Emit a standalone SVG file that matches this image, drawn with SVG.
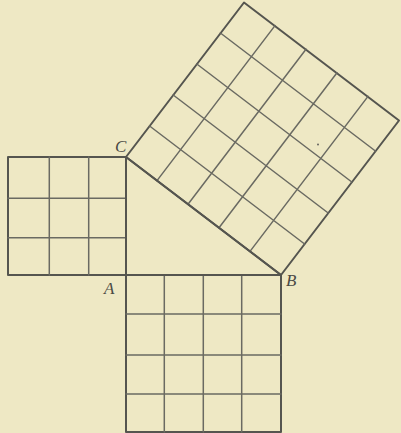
<svg xmlns="http://www.w3.org/2000/svg" width="401" height="433" viewBox="0 0 401 433">
<style>
.bg{fill:#eee8c4}
.grid{stroke:#6a6a62;stroke-width:1.5;fill:none;stroke-linecap:round}
.edge{stroke:#55554f;stroke-width:2;fill:none;stroke-linejoin:round}
.lbl{font-family:"Liberation Serif","DejaVu Serif",serif;font-style:italic;font-size:17px;fill:#4a4a45}
</style>
<rect class="bg" x="0" y="0" width="401" height="433"/>
<g id="square-AC">
<rect class="edge" x="8" y="157" width="118" height="118"/>
<path class="grid" d="M49.3 157V275M88.7 157V275M8 198.3H126M8 237.7H126"/>
</g>
<g id="square-AB">
<rect class="edge" x="126" y="275" width="155" height="157"/>
<path class="grid" d="M164.3 275V432M203.3 275V432M241.7 275V432M126 314H281M126 355H281M126 394H281"/>
</g>
<g id="square-BC">
<polygon class="edge" points="126,157 244,2.5 399,120.5 281,275"/>
<path class="grid" d="M157 180.6L275 25.6M188 204.2L306 49.2M219 227.8L337 72.8M250 251.4L368 96.4M149.6 126L304.6 244M173.2 95L328.2 213M196.8 64L351.8 182M220.4 33L375.4 151"/>
<circle cx="318" cy="144.5" r="1" fill="#66665f"/>
</g>
<g id="triangle">
<polygon class="edge" points="126,157 126,275 281,275"/>
</g>
<g id="labels">
<text class="lbl" x="115" y="152">C</text>
<text class="lbl" x="104" y="294">A</text>
<text class="lbl" x="286" y="286">B</text>
</g>
</svg>
